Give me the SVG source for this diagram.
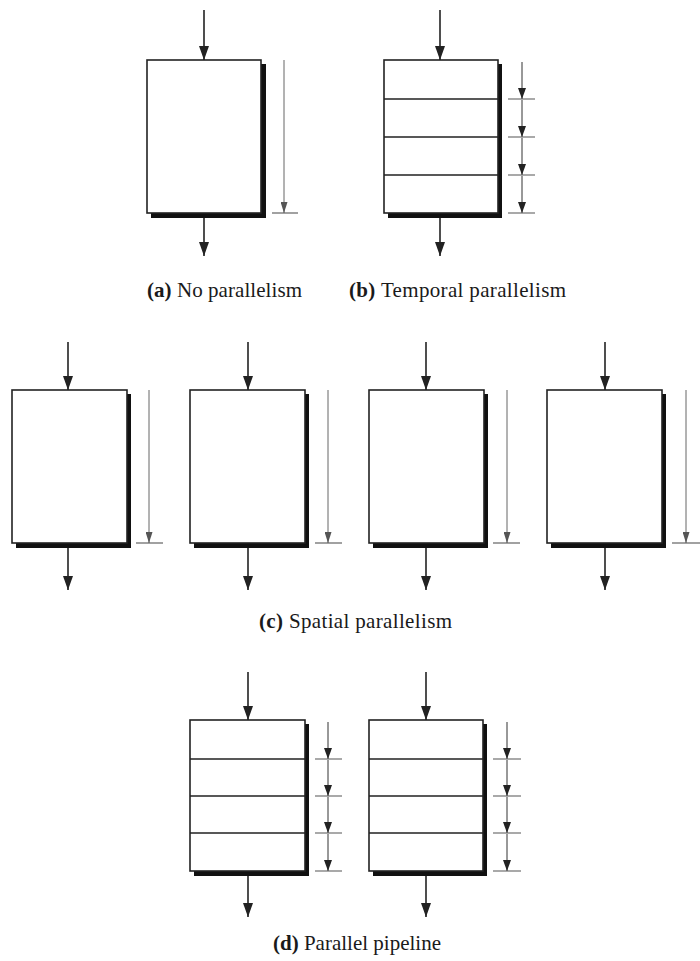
<svg xmlns="http://www.w3.org/2000/svg" width="700" height="961" viewBox="0 0 700 961">
<style>
.shadow{fill:#111;stroke:none}
.box{fill:#fff;stroke:#222;stroke-width:1.6}
.div{stroke:#222;stroke-width:1.5;fill:none}
.io{stroke:#222;stroke-width:1.6;fill:none;marker-end:url(#ah)}
.time{stroke:#666;stroke-width:1;fill:none;marker-end:url(#ahs)}
.stage{stroke:#333;stroke-width:1;fill:none;marker-end:url(#ahk)}
.tick{stroke:#555;stroke-width:1.1;fill:none}
.lbl{font-family:"Liberation Serif","Times New Roman",serif;font-size:21px;fill:#1a1a1a}
.lbl tspan.b{font-weight:bold}
</style>
<defs>
<marker id="ah" markerUnits="userSpaceOnUse" markerWidth="14" markerHeight="10" refX="14" refY="5" orient="auto"><path d="M0,0 L14,5 L0,10 z" fill="#222"/></marker>
<marker id="ahs" markerUnits="userSpaceOnUse" markerWidth="11" markerHeight="7" refX="11" refY="3.5" orient="auto"><path d="M0,0 L11,3.5 L0,7 z" fill="#555"/></marker>
<marker id="ahk" markerUnits="userSpaceOnUse" markerWidth="11" markerHeight="8" refX="11" refY="4" orient="auto"><path d="M0,0 L11,4 L0,8 z" fill="#222"/></marker>
</defs>

<!-- (a) -->
<g id="box-a">
<rect class="shadow" x="151" y="64" width="115" height="154"/>
<rect class="box" x="147" y="60" width="114" height="153"/>
</g>
<!-- (b) -->
<g id="box-b">
<rect class="shadow" x="388" y="64" width="114" height="154"/>
<rect class="box" x="384" y="60" width="114" height="153"/>
<path class="div" d="M384,99H498M384,137H498M384,175H498"/>
</g>

<!-- (c) -->
<g id="box-c1">
<rect class="shadow" x="16" y="394" width="115" height="154"/>
<rect class="box" x="12" y="390" width="115" height="153"/>
</g>
<g id="box-c2">
<rect class="shadow" x="194" y="394" width="115" height="154"/>
<rect class="box" x="190" y="390" width="115" height="153"/>
</g>
<g id="box-c3">
<rect class="shadow" x="373" y="394" width="115" height="154"/>
<rect class="box" x="369" y="390" width="115" height="153"/>
</g>
<g id="box-c4">
<rect class="shadow" x="551" y="394" width="115" height="154"/>
<rect class="box" x="547" y="390" width="115" height="153"/>
</g>

<!-- (d) -->
<g id="box-d1">
<rect class="shadow" x="194" y="724" width="115" height="152"/>
<rect class="box" x="190" y="720" width="115" height="151"/>
<path class="div" d="M190,759H305M190,796H305M190,833H305"/>
</g>
<g id="box-d2">
<rect class="shadow" x="373" y="724" width="114" height="152"/>
<rect class="box" x="369" y="720" width="114" height="151"/>
<path class="div" d="M369,759H483M369,796H483M369,833H483"/>
</g>

<g id="connectors">
<!-- (a) -->
<path class="io" d="M204,10V60"/>
<path class="io" d="M204,218V256"/>
<path class="time" d="M284,60V213"/>
<path class="tick" d="M272,213H298"/>
<!-- (b) -->
<path class="io" d="M440,10V60"/>
<path class="io" d="M440,218V256"/>
<path class="stage" d="M522,62V99"/>
<path class="stage" d="M522,100V137"/>
<path class="stage" d="M522,138V175"/>
<path class="stage" d="M522,176V213"/>
<path class="tick" d="M508,99H535M508,137H535M508,175H535M508,213H535"/>
<!-- (c) -->
<path class="io" d="M68,342V390"/>
<path class="io" d="M68,548V590"/>
<path class="time" d="M149,390V543"/>
<path class="tick" d="M136,543H163"/>
<path class="io" d="M248,342V390"/>
<path class="io" d="M248,548V590"/>
<path class="time" d="M328,390V543"/>
<path class="tick" d="M315,543H342"/>
<path class="io" d="M426,342V390"/>
<path class="io" d="M426,548V590"/>
<path class="time" d="M507,390V543"/>
<path class="tick" d="M493,543H520"/>
<path class="io" d="M605,342V390"/>
<path class="io" d="M605,548V590"/>
<path class="time" d="M686,390V543"/>
<path class="tick" d="M672,543H700"/>
<!-- (d) -->
<path class="io" d="M248,672V720"/>
<path class="io" d="M248,876V917"/>
<path class="stage" d="M328,722V759"/>
<path class="stage" d="M328,760V796"/>
<path class="stage" d="M328,797V833"/>
<path class="stage" d="M328,834V871"/>
<path class="tick" d="M315,759H342M315,796H342M315,833H342M315,871H342"/>
<path class="io" d="M426,672V720"/>
<path class="io" d="M426,876V917"/>
<path class="stage" d="M507,722V759"/>
<path class="stage" d="M507,760V796"/>
<path class="stage" d="M507,797V833"/>
<path class="stage" d="M507,834V871"/>
<path class="tick" d="M493,759H521M493,796H521M493,833H521M493,871H521"/>
</g>

<g id="labels">
<text class="lbl" x="147" y="297" textLength="155" lengthAdjust="spacing"><tspan class="b">(a)</tspan> No parallelism</text>
<text class="lbl" x="349" y="297" textLength="217" lengthAdjust="spacing"><tspan class="b">(b)</tspan> Temporal parallelism</text>
<text class="lbl" x="259" y="628" textLength="193" lengthAdjust="spacing"><tspan class="b">(c)</tspan> Spatial parallelism</text>
<text class="lbl" x="273" y="950" textLength="168" lengthAdjust="spacing"><tspan class="b">(d)</tspan> Parallel pipeline</text>
</g>
</svg>
